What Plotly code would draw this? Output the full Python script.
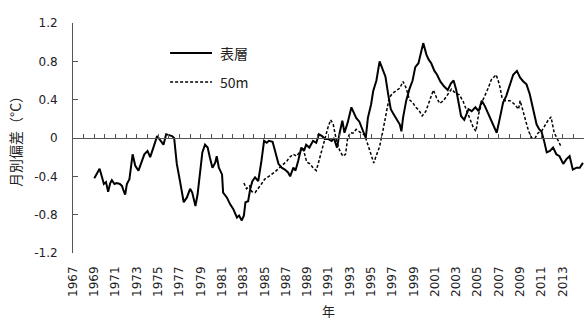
import plotly.graph_objects as go

# Monthly temperature anomaly (°C), surface layer
surface_year = [
    1969.0, 1969.2, 1969.5, 1969.7, 1969.9, 1970.1, 1970.3, 1970.5, 1970.65, 1970.9,
    1971.1, 1971.4, 1971.6, 1971.75, 1971.9, 1972.06, 1972.3, 1972.6, 1972.85, 1973.15,
    1973.5, 1973.7, 1974.0, 1974.25, 1974.55, 1974.9, 1975.1, 1975.25, 1975.5, 1975.75,
    1976.0, 1976.3, 1976.5, 1976.75, 1977.05, 1977.4, 1977.7, 1978.0, 1978.2, 1978.5,
    1978.7, 1978.95, 1979.15, 1979.4, 1979.65, 1979.85, 1980.1, 1980.35, 1980.5, 1980.7,
    1981.0, 1981.1, 1981.45, 1981.75, 1982.05, 1982.4, 1982.6, 1982.85, 1983.05, 1983.2,
    1983.45, 1983.65, 1983.85, 1984.1, 1984.4, 1984.7, 1984.95, 1985.2, 1985.4, 1985.75,
    1986.1, 1986.3, 1986.6, 1986.9, 1987.2, 1987.4, 1987.7, 1987.9, 1988.15, 1988.45,
    1988.7, 1988.9, 1989.2, 1989.55, 1989.85, 1990.1, 1990.4, 1990.65, 1990.95, 1991.3,
    1991.5, 1991.8, 1992.05, 1992.3, 1992.5, 1992.8, 1993.15, 1993.4, 1993.6, 1993.9,
    1994.25, 1994.5, 1994.7, 1995.0, 1995.2, 1995.5, 1995.8, 1996.05, 1996.35, 1996.6,
    1996.85, 1997.05, 1997.4, 1997.7, 1997.85, 1998.0, 1998.3, 1998.6, 1998.9, 1999.15,
    1999.45, 1999.7, 1999.9, 2000.2, 2000.4, 2000.65, 2000.95, 2001.2, 2001.5, 2001.85,
    2002.2, 2002.5, 2002.75, 2003.0, 2003.2, 2003.45, 2003.75, 2004.15, 2004.45, 2004.8,
    2005.1, 2005.4, 2005.7, 2006.0, 2006.3, 2006.55, 2006.8, 2007.1, 2007.4, 2007.7,
    2008.05, 2008.35, 2008.7, 2009.0, 2009.3, 2009.6, 2009.9, 2010.25, 2010.55, 2010.8,
    2011.0, 2011.25, 2011.5, 2011.8, 2012.1, 2012.4, 2012.7, 2013.05, 2013.35, 2013.65,
    2013.95, 2014.3, 2014.6, 2014.9,
]
surface_anom = [
    -0.42, -0.38, -0.32, -0.40, -0.48, -0.46, -0.56, -0.47, -0.44, -0.48,
    -0.47, -0.48, -0.50, -0.55, -0.59, -0.48, -0.43, -0.17, -0.29, -0.34,
    -0.24, -0.17, -0.135, -0.20, -0.10, 0.02, -0.01, -0.03, -0.07, 0.04,
    0.03, 0.02, 0.0, -0.27, -0.45, -0.67, -0.62, -0.53, -0.57, -0.71,
    -0.59, -0.34, -0.15, -0.07, -0.10, -0.20, -0.31, -0.26, -0.19, -0.31,
    -0.38, -0.57, -0.62, -0.69, -0.74, -0.83, -0.81, -0.86, -0.81, -0.67,
    -0.66, -0.53, -0.45, -0.41, -0.45, -0.24, -0.03, -0.05, -0.03, -0.04,
    -0.20, -0.27, -0.31, -0.33, -0.36, -0.40, -0.31, -0.34, -0.24, -0.10,
    -0.135, -0.07, -0.10, -0.03, -0.05, 0.04, 0.02, -0.01, -0.01, -0.03,
    0.0, -0.10, 0.055, 0.18, 0.055, 0.16, 0.32, 0.26, 0.21, 0.17,
    0.07, 0.0, 0.21, 0.35, 0.49, 0.60, 0.80, 0.72, 0.64, 0.46,
    0.30, 0.26, 0.19, 0.14, 0.07, 0.21, 0.39, 0.51, 0.60, 0.74,
    0.78, 0.89, 0.99, 0.87, 0.82, 0.78, 0.70, 0.66, 0.59, 0.54,
    0.50, 0.57, 0.60, 0.50, 0.39, 0.23, 0.19, 0.30, 0.28, 0.32,
    0.28, 0.39, 0.33, 0.25, 0.19, 0.12, 0.055, 0.21, 0.37, 0.44,
    0.56, 0.66, 0.70, 0.63, 0.59, 0.56, 0.46, 0.30, 0.14, 0.09,
    0.07, -0.03, -0.15, -0.135, -0.10, -0.17, -0.19, -0.27, -0.22, -0.19,
    -0.33, -0.31, -0.31, -0.26,
]

# Monthly temperature anomaly (°C), 50 m depth
depth50_year = [
    1983.05, 1983.3, 1983.6, 1983.8, 1984.1, 1984.4, 1984.7, 1985.0, 1985.3, 1985.65,
    1986.0, 1986.3, 1986.6, 1986.9, 1987.1, 1987.35, 1987.7, 1988.0, 1988.3, 1988.6,
    1988.95, 1989.25, 1989.55, 1989.85, 1990.1, 1990.35, 1990.65, 1990.95, 1991.2, 1991.45,
    1991.75, 1992.05, 1992.35, 1992.6, 1992.8, 1993.05, 1993.3, 1993.6, 1993.85, 1994.1,
    1994.4, 1994.7, 1995.0, 1995.25, 1995.5, 1995.8, 1996.1, 1996.4, 1996.7, 1997.05,
    1997.35, 1997.7, 1998.0, 1998.3, 1998.6, 1998.9, 1999.2, 1999.5, 1999.8, 2000.15,
    2000.5, 2000.85, 2001.15, 2001.45, 2001.8, 2002.1, 2002.55, 2002.9, 2003.3, 2003.65,
    2004.0, 2004.3, 2004.6, 2004.85, 2005.1, 2005.4, 2005.7, 2006.0, 2006.3, 2006.75,
    2007.05, 2007.3, 2007.6, 2008.05, 2008.5, 2008.85, 2009.0, 2009.25, 2009.5, 2009.8,
    2010.1, 2010.4, 2010.7, 2011.0, 2011.3, 2011.6, 2011.9, 2012.2, 2012.5, 2012.8,
]
depth50_anom = [
    -0.47, -0.53, -0.50, -0.56, -0.57, -0.53, -0.48, -0.43, -0.41, -0.38,
    -0.35, -0.32, -0.28, -0.26, -0.24, -0.20, -0.17, -0.19, -0.15, -0.10,
    -0.25, -0.27, -0.31, -0.34, -0.24, -0.135, -0.01, 0.11, 0.19, 0.14,
    -0.03, -0.13, -0.19, -0.17, 0.0, 0.055, 0.05, 0.09, 0.07, 0.05,
    0.03, -0.07, -0.17, -0.26, -0.18, -0.09, 0.07, 0.25, 0.42, 0.47,
    0.49, 0.52, 0.59, 0.52, 0.40, 0.37, 0.32, 0.29, 0.23, 0.28,
    0.39, 0.50, 0.42, 0.36, 0.39, 0.44, 0.51, 0.47, 0.45, 0.38,
    0.28, 0.19, 0.11, 0.07, 0.25, 0.37, 0.44, 0.52, 0.61, 0.66,
    0.56, 0.42, 0.39, 0.39, 0.35, 0.30, 0.39, 0.28, 0.18, 0.07,
    0.0, 0.0, 0.055, 0.07, 0.125, 0.18, 0.22, 0.055, -0.01, -0.08,
]

y_ticks = [1.2, 0.8, 0.4, 0, -0.4, -0.8, -1.2]
y_tick_text = ["1.2", "0.8", "0.4", "0", "-0.4", "-0.8", "-1.2"]
year_labels = list(range(1967, 2015, 2))
year_ticks = list(range(1968, 2015))

NUM_FONT = "DejaVu Sans, Noto Sans CJK JP"
JP_FONT = "Noto Sans CJK JP"
AXIS_COLOR = "#555555"
TEXT_COLOR = "#222222"
X_RANGE = [1967, 2015]

fig = go.Figure()

fig.add_trace(go.Scatter(
    x=surface_year, y=surface_anom, mode="lines", name="表層",
    line=dict(color="black", width=2), xaxis="x", yaxis="y",
))
fig.add_trace(go.Scatter(
    x=depth50_year, y=depth50_anom, mode="lines", name="50m",
    line=dict(color="black", width=1.5, dash="3px,2px"), xaxis="x2", yaxis="y",
))

fig.update_layout(
    width=584, height=320,
    margin=dict(l=73, r=0, t=23, b=67),
    paper_bgcolor="white", plot_bgcolor="white",
    showlegend=False,
    font=dict(family=NUM_FONT, size=12, color=TEXT_COLOR),
    # bottom axis: year labels only
    xaxis=dict(
        range=X_RANGE, showgrid=False, zeroline=False, showline=False,
        ticks="", tickmode="array", tickvals=year_labels,
        ticktext=[str(v) for v in year_labels], tickangle=-90,
        ticklabelstandoff=10,
        tickfont=dict(family=NUM_FONT, size=12, color=TEXT_COLOR),
    ),
    # axis drawn along the zero line with a tick every year
    xaxis2=dict(
        range=X_RANGE, overlaying="x", anchor="free", position=0.5, side="bottom",
        showgrid=False, zeroline=False, showline=True, linecolor=AXIS_COLOR, linewidth=1,
        ticks="inside", ticklen=4, tickwidth=1, tickcolor=AXIS_COLOR,
        tickmode="array", tickvals=year_ticks, showticklabels=False,
    ),
    yaxis=dict(
        range=[-1.2, 1.2], showgrid=False, zeroline=False,
        showline=True, linecolor=AXIS_COLOR, linewidth=1,
        ticks="inside", ticklen=5, tickwidth=1, tickcolor=AXIS_COLOR,
        tickmode="array", tickvals=y_ticks, ticktext=y_tick_text,
        ticklabelstandoff=12,
        tickfont=dict(family=NUM_FONT, size=12, color=TEXT_COLOR),
    ),
)

# axis titles
fig.add_annotation(
    text="月別偏差（°C）", xref="paper", yref="paper", x=0, y=0.5,
    xshift=-58, textangle=-90, showarrow=False, xanchor="center", yanchor="middle",
    font=dict(family=JP_FONT, size=14, color=TEXT_COLOR),
)
fig.add_annotation(
    text="年", xref="paper", yref="paper", x=0.5, y=0, yshift=-57,
    showarrow=False, xanchor="center", yanchor="middle",
    font=dict(family=JP_FONT, size=13, color=TEXT_COLOR),
)

# legend drawn inside the plot area
legend_items = [("表層", "solid", 2, 0.8696), ("50m", "3px,2px", 1.5, 0.7435)]
for label, dash, width, ypos in legend_items:
    fig.add_shape(
        type="line", xref="paper", yref="paper",
        x0=0.19, x1=0.272, y0=ypos, y1=ypos,
        line=dict(color="black", width=width, dash=dash),
    )
    fig.add_annotation(
        text=label, xref="paper", yref="paper", x=0.283, y=ypos,
        showarrow=False, xanchor="left", yanchor="middle",
        font=dict(family=JP_FONT, size=14, color=TEXT_COLOR),
    )

fig.write_html("out.html")
